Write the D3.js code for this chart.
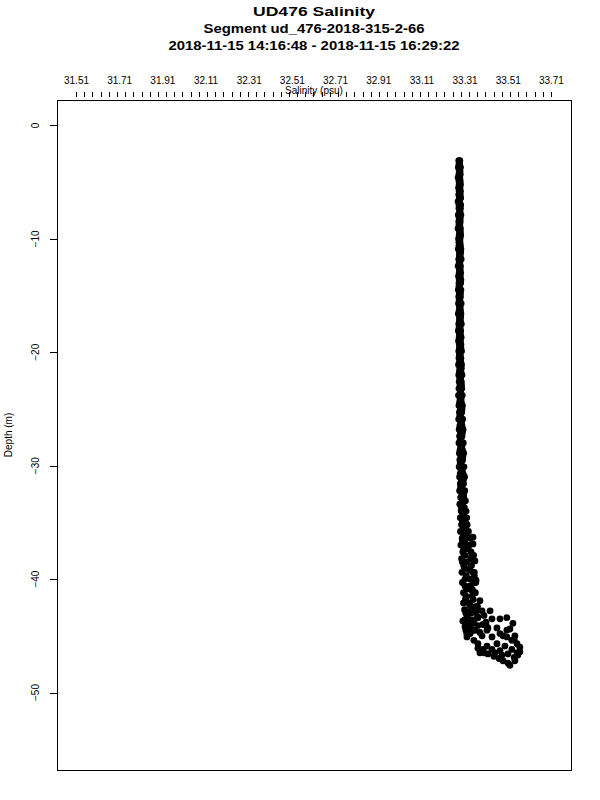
<!DOCTYPE html>
<html>
<head>
<meta charset="utf-8">
<script src="https://cdn.jsdelivr.net/npm/d3@7"></script>
<style>
  body { margin: 0; background: #fff; }
  svg { display: block; font-family: "Liberation Sans", Arial, sans-serif; }
</style>
</head>
<body>
<div class="canvas"></div>
<script>
// size of the picture and of the plot box
const width = 600;
const height = 800;
const boxLeft = 57, boxRight = 571, boxTop = 100, boxBottom = 770;

const titleLines = [
  "UD476 Salinity",
  "Segment ud_476-2018-315-2-66",
  "2018-11-15 14:16:48 - 2018-11-15 16:29:22"
];
const titleWidths = [122, 221, 291];

// top axis labels (salinity, psu) and the small tick marks
const salLabels = ["31.51", "31.71", "31.91", "32.11", "32.31", "32.51", "32.71", "32.91", "33.11", "33.31", "33.51", "33.71"];
const salTickCount = 59;
const depthTicks = [0, -10, -20, -30, -40, -50];

// upper part of the profile (depth m, salinity psu), two casts
const colDepth = [
  -3.1, -3.4, -3.7, -4.0, -4.3, -4.6, -4.9, -5.2, -5.5, -5.8,
  -6.1, -6.4, -6.7, -7.0, -7.3, -7.6, -7.9, -8.2, -8.5, -8.8,
  -9.1, -9.4, -9.7, -10.0, -10.3, -10.6, -10.9, -11.2, -11.5, -11.8,
  -12.1, -12.4, -12.7, -13.0, -13.3, -13.6, -13.9, -14.2, -14.5, -14.8,
  -15.1, -15.4, -15.7, -16.0, -16.3, -16.6, -16.9, -17.2, -17.5, -17.8,
  -18.1, -18.4, -18.7, -19.0, -19.3, -19.6, -19.9, -20.2, -20.5, -20.8,
  -21.1, -21.4, -21.7, -22.0, -22.3, -22.6, -22.9, -23.2, -23.5, -23.8,
  -24.1, -24.4, -24.7, -25.0, -25.3, -25.6, -25.9, -26.2, -26.5, -26.8,
  -27.1, -27.4, -27.7, -28.0, -28.3, -28.6, -28.9, -29.2, -29.5, -29.8,
  -30.1, -30.4, -30.7, -31.0, -31.3, -31.6, -31.9, -32.2, -32.5, -32.8,
  -33.1, -33.4, -33.7, -34.0, -34.3, -34.6, -34.9, -35.2, -35.5, -35.8,
  -36.1, -36.3, -36.4, -36.7, -37.0, -37.3, -37.6, -37.9, -38.2, -38.5,
  -38.8, -39.1, -39.4, -39.7, -40.0, -40.3, -40.6, -40.9, -41.2, -41.5,
  -41.8, -42.1, -42.4, -42.7, -43.0, -43.3, -43.6, -43.9, -44.2, -44.5,
  -44.8
];
const colSal = [
  33.283, 33.287, 33.281, 33.289, 33.284, 33.280, 33.290, 33.285, 33.282, 33.291,
  33.283, 33.286, 33.280, 33.292, 33.284, 33.287, 33.281, 33.290, 33.283, 33.288,
  33.280, 33.291, 33.285, 33.282, 33.289, 33.284, 33.281, 33.292, 33.286, 33.283,
  33.288, 33.280, 33.290, 33.285, 33.282, 33.293, 33.284, 33.287, 33.281, 33.291,
  33.283, 33.288, 33.282, 33.290, 33.285, 33.281, 33.292, 33.286, 33.283, 33.289,
  33.281, 33.291, 33.285, 33.282, 33.293, 33.286, 33.283, 33.290, 33.284, 33.292,
  33.282, 33.295, 33.286, 33.283, 33.291, 33.285, 33.296, 33.284, 33.290, 33.282,
  33.294, 33.287, 33.284, 33.298, 33.286, 33.291, 33.283, 33.296, 33.288, 33.285,
  33.300, 33.287, 33.293, 33.284, 33.297, 33.289, 33.286, 33.302, 33.288, 33.294,
  33.285, 33.299, 33.290, 33.287, 33.304, 33.290, 33.297, 33.287, 33.306, 33.292,
  33.300, 33.288, 33.309, 33.294, 33.302, 33.290, 33.312, 33.296, 33.305, 33.291,
  33.315, 33.349, 33.299, 33.310, 33.293, 33.320, 33.302, 33.345, 33.296, 33.318,
  33.306, 33.330, 33.298, 33.355, 33.312, 33.300, 33.335, 33.320, 33.305, 33.345,
  33.315, 33.330, 33.365, 33.310, 33.340, 33.322, 33.355, 33.318, 33.335, 33.330,
  33.320
];
const colSal2 = [
  33.288, 33.284, 33.291, 33.285, 33.290, 33.288, 33.284, 33.291, 33.289, 33.285,
  33.290, 33.292, 33.287, 33.284, 33.291, 33.289, 33.293, 33.285, 33.290, 33.284,
  33.291, 33.286, 33.292, 33.289, 33.284, 33.291, 33.293, 33.286, 33.290, 33.294,
  33.285, 33.291, 33.286, 33.292, 33.290, 33.285, 33.292, 33.284, 33.293, 33.286,
  33.291, 33.285, 33.294, 33.286, 33.291, 33.293, 33.286, 33.291, 33.295, 33.285,
  33.292, 33.286, 33.294, 33.291, 33.286, 33.293, 33.296, 33.286, 33.293, 33.287,
  33.296, 33.288, 33.293, 33.298, 33.288, 33.295, 33.289, 33.297, 33.292, 33.299,
  33.289, 33.295, 33.300, 33.290, 33.297, 33.288, 33.301, 33.292, 33.298, 33.303,
  33.291, 33.298, 33.290, 33.304, 33.292, 33.300, 33.306, 33.293, 33.301, 33.290,
  33.307, 33.294, 33.303, 33.310, 33.295, 33.305, 33.292, 33.311, 33.298, 33.306,
  33.314, 33.299, 33.296, 33.317, 33.304, 33.320, 33.300, 33.322, 33.309, 33.328,
  33.304, 33.325, 33.336, 33.300, 33.332, 33.306, 33.340, 33.312, 33.338, 33.300,
  33.342, 33.308, 33.348, 33.318, 33.336, 33.352, 33.312, 33.346, 33.360, 33.316,
  33.350, 33.305, 33.340, 33.358, 33.316, 33.370, 33.310, 33.348, 33.312, 33.352,
  33.336
];

// bottom loop of the profile
const loopDepth = [
  -36.9, -37.9, -39.4, -40.3, -41.9, -42.8, -42.8, -43.5, -43.5, -43.4,
  -43.9, -44.3, -44.3, -44.8, -44.5, -45.1, -45.0, -45.1, -45.7, -45.9,
  -45.7, -45.1, -45.4, -45.7, -46.0, -46.5, -46.6, -46.5, -46.7, -46.6,
  -46.5, -46.4, -47.4, -47.6, -43.6, -44.5, -43.4, -42.4, -44.0, -46.2,
  -47.0, -45.3, -44.1, -46.9, -42.3, -42.9, -43.2, -44.1, -44.1, -43.8,
  -45.4, -46.2, -46.3, -45.9, -46.2, -46.7, -47.2, -47.2, -46.8, -46.5,
  -46.1, -45.0, -44.4, -45.0, -44.7, -44.5, -44.5, -43.7, -42.9, -41.7,
  -41.0, -40.1, -39.2, -38.4, -37.3
];
const loopSal = [
  33.349, 33.352, 33.355, 33.362, 33.381, 33.428, 33.391, 33.437, 33.474, 33.506,
  33.534, 33.418, 33.460, 33.474, 33.506, 33.321, 33.391, 33.437, 33.372, 33.414,
  33.460, 33.506, 33.529, 33.553, 33.566, 33.381, 33.418, 33.451, 33.483, 33.511,
  33.553, 33.566, 33.511, 33.520, 33.335, 33.358, 33.372, 33.370, 33.395, 33.395,
  33.470, 33.540, 33.410, 33.540, 33.335, 33.363, 33.400, 33.335, 33.372, 33.409,
  33.353, 33.437, 33.474, 33.497, 33.529, 33.557, 33.543, 33.488, 33.446, 33.400,
  33.372, 33.488, 33.520, 33.543, 33.381, 33.414, 33.316, 33.302, 33.326, 33.316,
  33.344, 33.363, 33.335, 33.358, 33.326
];

const points = colDepth.map((d, i) => ({ depth: d, sal: colSal[i] }))
  .concat(colDepth.map((d, i) => ({ depth: d, sal: colSal2[i] })))
  .concat(loopDepth.map((d, i) => ({ depth: d, sal: loopSal[i] })));

// scales
const x = d3.scaleLinear().domain([31.422, 33.803]).range([boxLeft, boxRight]);
const y = d3.scaleLinear().domain([2.24, -56.83]).range([boxTop, boxBottom]);

const svg = d3.select(".canvas").append("svg")
  .attr("width", width)
  .attr("height", height);

// title
svg.append("g").selectAll("text")
  .data(titleLines)
  .join("text")
    .attr("x", (boxLeft + boxRight) / 2)
    .attr("y", (d, i) => 16 + i * 17)
    .attr("text-anchor", "middle")
    .attr("font-size", 12)
    .attr("font-weight", "bold")
    .attr("textLength", (d, i) => titleWidths[i])
    .attr("lengthAdjust", "spacingAndGlyphs")
    .text(d => d);

// top axis: small ticks
const salTicks = d3.range(salTickCount).map(i => 31.51 + i * 2.2 / (salTickCount - 1));
const gTicks = svg.append("g")
  .attr("transform", `translate(0, 97)`)
  .call(d3.axisTop(x).tickValues(salTicks).tickSize(5).tickFormat(""));
gTicks.select(".domain").remove();
gTicks.selectAll("line").attr("shape-rendering", "crispEdges");

// top axis: labels
const gLab = svg.append("g")
  .attr("transform", `translate(0, 97)`)
  .call(d3.axisTop(x).tickValues(salLabels.map(Number)).tickSize(0).tickPadding(13)
    .tickFormat((d, i) => salLabels[i]));
gLab.select(".domain").remove();
gLab.selectAll("text").attr("font-size", 10).attr("font-family", null).attr("fill", "#000");

svg.append("text")
  .attr("x", (boxLeft + boxRight) / 2)
  .attr("y", 94)
  .attr("text-anchor", "middle")
  .attr("font-size", 10)
  .text("Salinity (psu)");

// left axis
const gy = svg.append("g")
  .attr("transform", `translate(${boxLeft}, 0)`)
  .call(d3.axisLeft(y).tickValues(depthTicks).tickSize(7).tickFormat(""));
gy.select(".domain").remove();
gy.selectAll("line").attr("shape-rendering", "crispEdges");

svg.append("g").selectAll("text")
  .data(depthTicks)
  .join("text")
    .attr("transform", d => `translate(38.5, ${y(d)}) rotate(-90)`)
    .attr("text-anchor", "middle")
    .attr("font-size", 10)
    .text(d => d3.format("d")(d));

svg.append("text")
  .attr("transform", `translate(12, ${(boxTop + boxBottom) / 2}) rotate(-90)`)
  .attr("text-anchor", "middle")
  .attr("font-size", 10)
  .text("Depth (m)");

// box
svg.append("rect")
  .attr("x", boxLeft + 0.5)
  .attr("y", boxTop + 0.5)
  .attr("width", boxRight - boxLeft)
  .attr("height", boxBottom - boxTop)
  .attr("fill", "none")
  .attr("stroke", "#000")
  .attr("shape-rendering", "crispEdges");

// points
svg.append("g").selectAll("circle")
  .data(points)
  .join("circle")
    .attr("cx", d => x(d.sal))
    .attr("cy", d => y(d.depth))
    .attr("r", 3.4)
    .attr("fill", "#000");
</script>
</body>
</html>
